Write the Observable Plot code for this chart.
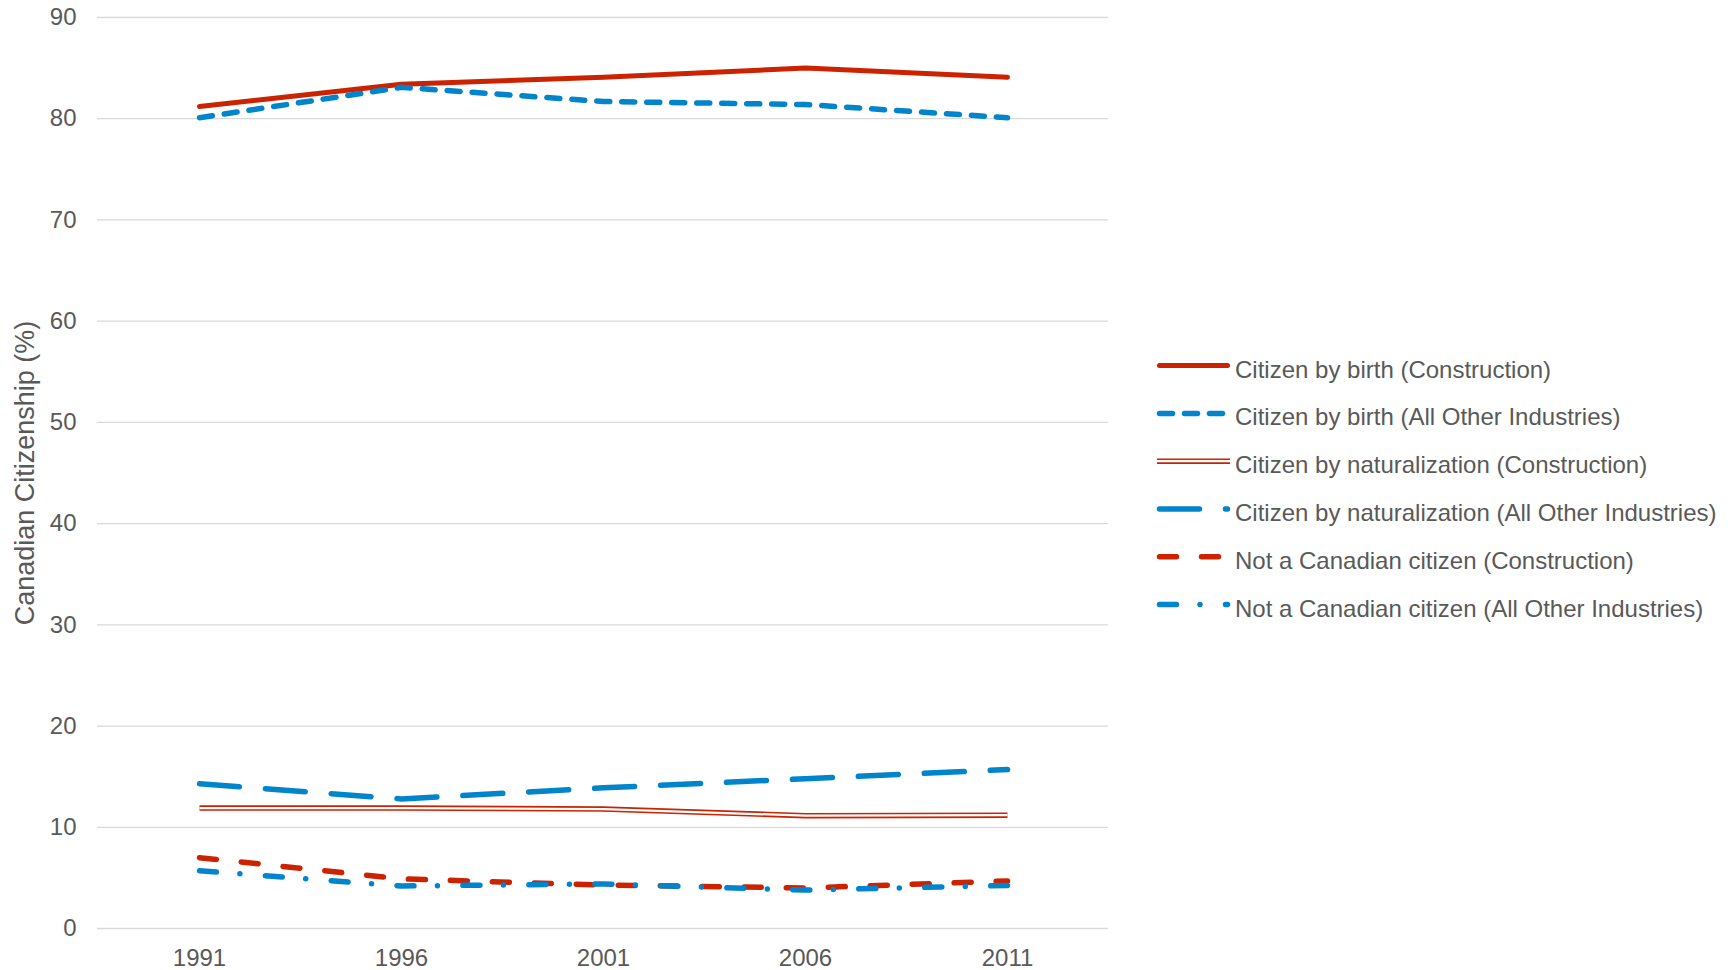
<!DOCTYPE html>
<html>
<head>
<meta charset="utf-8">
<script src="https://cdn.jsdelivr.net/npm/d3@7"></script>
<script src="https://cdn.jsdelivr.net/npm/@observablehq/plot@0.6"></script>
<style>
  html, body { margin: 0; padding: 0; background: #fff; }
  #wrap { position: relative; width: 1735px; height: 970px; }
  #legend { position: absolute; left: 0; top: 0; pointer-events: none; }
</style>
</head>
<body>
<div id="wrap"></div>
<script>
// ---- Data ----
const years = ["1991", "1996", "2001", "2006", "2011"];
const yTicks = [0, 10, 20, 30, 40, 50, 60, 70, 80, 90];
const seriesNames = [
  "Citizen by birth (Construction)",
  "Citizen by birth (All Other Industries)",
  "Citizen by naturalization (Construction)",
  "Citizen by naturalization (All Other Industries)",
  "Not a Canadian citizen (Construction)",
  "Not a Canadian citizen (All Other Industries)"
];
const birthConstruction = [81.2, 83.4, 84.1, 85.0, 84.1];
const birthOther        = [80.1, 83.1, 81.7, 81.4, 80.1];
const natConstruction   = [11.9, 11.9, 11.8, 11.15, 11.2];
const natOther          = [14.3, 12.8, 13.9, 14.8, 15.7];
const notConstruction   = [7.0, 4.9, 4.3, 4.0, 4.7];
const notOther          = [5.7, 4.2, 4.4, 3.8, 4.25];
const yLabel = "Canadian Citizenship (%)";

const allValues = [birthConstruction, birthOther, natConstruction, natOther, notConstruction, notOther];

// ---- Styles (separate from data) ----
const RED = "#cc2200", BLUE = "#0084cc", TEXT = "#595959";
const styles = [
  {stroke: RED,  width: 5,   dash: null,              cap: "round"},
  {stroke: BLUE, width: 5.5, dash: "13,12",           cap: "round"},
  {stroke: RED,  width: 5.5, dash: null,              cap: "butt", double: true},
  {stroke: BLUE, width: 5.5, dash: "40,26",           cap: "round"},
  {stroke: RED,  width: 5.5, dash: "17,25",           cap: "round"},
  {stroke: BLUE, width: 5.5, dash: "17,23.5,0,25.5",  cap: "round"}
];

const tables = allValues.map((vals, i) => years.map((y, j) => ({year: y, value: vals[j], series: seriesNames[i]})));

const lineMarks = [];
tables.forEach((t, i) => {
  const s = styles[i];
  lineMarks.push(Plot.line(t, {
    x: "year", y: "value", stroke: s.stroke, strokeWidth: s.width,
    strokeDasharray: s.dash || undefined, strokeLinecap: s.cap, strokeLinejoin: "round"
  }));
  if (s.double) {
    lineMarks.push(Plot.line(t, {
      x: "year", y: "value", stroke: "#ffffff", strokeWidth: 2.2,
      strokeLinecap: "butt", strokeLinejoin: "round"
    }));
  }
});

const chart = Plot.plot({
  width: 1735,
  height: 970,
  marginLeft: 97,
  marginRight: 627,
  marginTop: 17,
  marginBottom: 42,
  style: {fontFamily: "'Liberation Sans', Arial, sans-serif", color: TEXT, background: "#fff"},
  x: {type: "point", domain: years, padding: 0.5, label: null},
  y: {domain: [0, 90], label: null},
  marks: [
    Plot.ruleY(yTicks, {stroke: "#d9d9d9", strokeWidth: 1.3}),
    Plot.axisY({ticks: yTicks, tickSize: 0, tickPadding: 21, fontSize: 24, label: null}),
    Plot.axisX({tickSize: 0, tickPadding: 20, fontSize: 24, label: null}),
    Plot.text([yLabel], {frameAnchor: "left", textAnchor: "middle", dx: -72, rotate: -90, fontSize: 27, fill: TEXT}),
    ...lineMarks
  ]
});

const wrap = document.getElementById("wrap");
wrap.appendChild(chart);

// ---- Legend (overlay SVG) ----
const leg = d3.select(wrap).append("svg")
  .attr("id", "legend")
  .attr("width", 1735).attr("height", 970);

const rowStart = 377.6, rowStep = 47.8;
seriesNames.forEach((name, i) => {
  const s = styles[i];
  const base = rowStart + i * rowStep;
  const ly = base - 12;
  const g = leg.append("g");
  const x1 = s.cap === "round" ? 1159.5 : 1157;
  const x2 = s.cap === "round" ? 1227.5 : 1230;
  g.append("line")
    .attr("x1", x1).attr("x2", x2).attr("y1", ly).attr("y2", ly)
    .attr("stroke", s.stroke).attr("stroke-width", s.width)
    .attr("stroke-linecap", s.cap)
    .attr("stroke-dasharray", s.dash);
  if (s.double) {
    g.append("line")
      .attr("x1", x1).attr("x2", x2).attr("y1", ly).attr("y2", ly)
      .attr("stroke", "#fff").attr("stroke-width", 2.2);
  }
  g.append("text")
    .attr("x", 1235).attr("y", base)
    .attr("fill", TEXT)
    .attr("font-family", "'Liberation Sans', Arial, sans-serif")
    .attr("font-size", 24)
    .text(name);
});
</script>
</body>
</html>
